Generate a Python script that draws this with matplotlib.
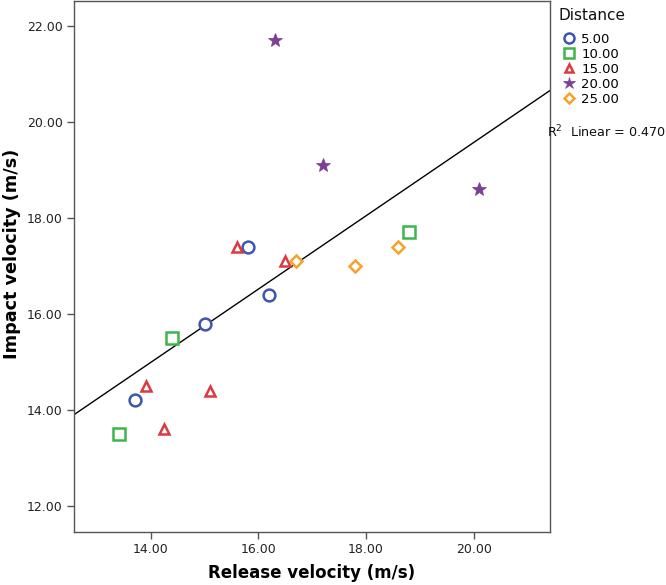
import numpy as np
import matplotlib
matplotlib.use("Agg")
import matplotlib.pyplot as plt
from matplotlib.lines import Line2D

plt.rcParams['font.family'] = ['DejaVu Sans']

# ---- data ----
distances = ["5.00", "10.00", "15.00", "20.00", "25.00"]
release_5 = [13.7, 15.0, 15.8, 16.2]
impact_5 = [14.2, 15.8, 17.4, 16.4]
release_10 = [13.4, 14.4, 18.8]
impact_10 = [13.5, 15.5, 17.7]
release_15 = [13.9, 15.1, 14.25, 15.6, 16.5]
impact_15 = [14.5, 14.4, 13.6, 17.4, 17.1]
release_20 = [16.3, 17.2, 20.1]
impact_20 = [21.7, 19.1, 18.6]
release_25 = [16.7, 17.8, 18.6]
impact_25 = [17.1, 17.0, 17.4]
x_ticks = [14.0, 16.0, 18.0, 20.0]
y_ticks = [12.0, 14.0, 16.0, 18.0, 20.0, 22.0]

groups = [(release_5, impact_5), (release_10, impact_10), (release_15, impact_15),
          (release_20, impact_20), (release_25, impact_25)]
colors = ["#3D55AE", "#3DB54B", "#DC3A40", "#7B3F93", "#F6A22C"]
markers = ["o", "s", "^", "*", "D"]
msizes = [8.5, 8.0, 7.5, 10.5, 6.5]
filled = [False, False, False, True, False]

W, H = 666, 585
fig = plt.figure(figsize=(W / 100, H / 100), dpi=100)
ax = fig.add_axes([74 / W, 1 - 532 / H, (550 - 74) / W, 531 / H])

xlim = (12.57, 21.42)
ylim = (11.46, 22.52)

for (xs, ys), c, m, ms, f, lab in zip(groups, colors, markers, msizes, filled, distances):
    ax.plot(xs, ys, linestyle='none', marker=m, markersize=ms,
            markerfacecolor=(c if f else 'white'), markeredgecolor=c,
            markeredgewidth=(0.5 if f else 1.8), label=lab, zorder=3)

# linear fit
all_x = np.concatenate([np.array(g[0]) for g in groups])
all_y = np.concatenate([np.array(g[1]) for g in groups])
slope, intercept = np.polyfit(all_x, all_y, 1)
r2 = np.corrcoef(all_x, all_y)[0, 1] ** 2
lx = np.array(xlim)
ax.plot(lx, slope * lx + intercept, color='black', lw=1.0, zorder=2)

ax.set_xlim(*xlim)
ax.set_ylim(*ylim)
ax.set_xticks(x_ticks)
ax.set_yticks(y_ticks)
ax.set_xticklabels([f"{v:.2f}" for v in x_ticks])
ax.set_yticklabels([f"{v:.2f}" for v in y_ticks])
for s in ax.spines.values():
    s.set_color('#555555')
    s.set_linewidth(1.0)
ax.tick_params(direction='out', length=5, width=1, color='#555555',
               labelsize=9, labelcolor='#222222', pad=3)

ax.set_xlabel("Release velocity (m/s)", fontsize=12, fontweight='bold', labelpad=6)
ax.set_ylabel("Impact velocity (m/s)", fontsize=12.7, fontweight='bold')
ax.yaxis.set_label_coords((21 - 74) / 476, (532 - 254) / 531)

handles = [Line2D([], [], linestyle='none', marker=m, markersize=ms * 0.85,
                  markerfacecolor=(c if f else 'white'), markeredgecolor=c,
                  markeredgewidth=(0.5 if f else 1.8))
           for c, m, ms, f in zip(colors, markers, msizes, filled)]
fig.text(559 / W, 1 - 16 / H, "Distance", fontsize=11, ha='left', va='center',
         color='#111111')
leg = fig.legend(handles, distances, loc='upper left',
                 bbox_to_anchor=(556 / W, 1 - 30 / H), frameon=False,
                 fontsize=9.5, handlelength=1.6,
                 handletextpad=0.1, labelspacing=0.16, borderaxespad=0,
                 borderpad=0.2)

fig.text(547 / W, 1 - 132 / H, f"R$^2$  Linear = {r2:.3f}", fontsize=9.2,
         va='center', ha='left', color='#111111')

fig.savefig("out.png", dpi=100)
